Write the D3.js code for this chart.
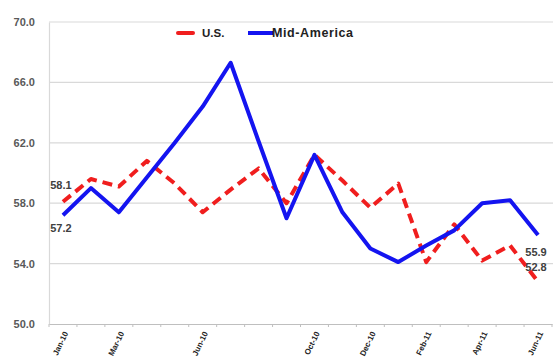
<!DOCTYPE html>
<html>
<head>
<meta charset="utf-8">
<script src="https://cdn.jsdelivr.net/npm/d3@7"></script>
<style>
  html, body { margin: 0; padding: 0; background: #fff; }
  svg { display: block; font-family: "Liberation Sans", Arial, sans-serif; }
</style>
</head>
<body>
<svg id="chart" width="553" height="360"></svg>
<script>
// Monthly readings, U.S. vs Mid-America
const months = ["Jan-10","Feb-10","Mar-10","Apr-10","May-10","Jun-10","Jul-10","Aug-10","Sep-10",
                "Oct-10","Nov-10","Dec-10","Jan-11","Feb-11","Mar-11","Apr-11","May-11","Jun-11"];
const usValues  = [58.1, 59.6, 59.1, 60.8, 59.3, 57.4, 58.9, 60.3, 58.0,
                   61.2, 59.5, 57.7, 59.3, 54.1, 56.6, 54.2, 55.2, 52.8];
const midValues = [57.2, 59.0, 57.4, 59.7, 62.0, 64.4, 67.3, 62.1, 57.0,
                   61.2, 57.4, 55.0, 54.1, 55.2, 56.2, 58.0, 58.2, 55.9];
// Months that carry an axis label
const labeledMonths = ["Jan-10","Mar-10","Jun-10","Oct-10","Dec-10","Feb-11","Apr-11","Jun-11"];
const yTicks = [50, 54, 58, 62, 66, 70];
const seriesNames = ["U.S.", "Mid-America"];

const svg = d3.select("#chart");
const W = 553;

const x = d3.scaleBand().domain(months).range([49, 552]);
const cx = m => x(m) + x.bandwidth() / 2;
const y = d3.scaleLinear().domain([50, 70]).range([324, 22]);

// horizontal gridlines
svg.append("g").selectAll("line").data(yTicks.filter(t => t > 50)).join("line")
  .attr("x1", 49).attr("x2", W).attr("y1", d => y(d)).attr("y2", d => y(d))
  .attr("stroke", "#d9d9d9").attr("stroke-width", 1.2);

// y axis
const yAxis = svg.append("g").attr("transform", "translate(49,0)")
  .call(d3.axisLeft(y).tickValues(yTicks).tickFormat(d3.format(".1f")).tickSize(0).tickPadding(14));
yAxis.select(".domain").attr("stroke", "#d9d9d9").attr("stroke-width", 1.2);
yAxis.selectAll("text").attr("font-size", 11).attr("fill", "#595959").attr("font-weight", "bold");

// x axis with ticks between categories
const xAxis = svg.append("g").attr("transform", `translate(0,${y(50)})`)
  .call(d3.axisBottom(x).tickSize(0).tickFormat(d => labeledMonths.includes(d) ? d : ""));
xAxis.select(".domain").attr("stroke", "#bfbfbf").attr("stroke-width", 1.2);
xAxis.selectAll(".tick text")
  .attr("font-size", 8).attr("font-weight", "bold").attr("fill", "#222")
  .attr("text-anchor", "end")
  .attr("transform", "translate(3,8) rotate(-64)")
  .attr("dy", "0.35em").attr("y", 0).attr("x", 0);
svg.append("g").selectAll("line").data(months.concat([null])).join("line")
  .attr("x1", (d, i) => 49 + i * x.step()).attr("x2", (d, i) => 49 + i * x.step())
  .attr("y1", y(50)).attr("y2", y(50) + 3)
  .attr("stroke", "#bfbfbf");

// series lines
const line = vals => d3.line().x((d, i) => cx(months[i])).y(d => y(d))(vals);
svg.append("path").attr("d", line(usValues))
  .attr("fill", "none").attr("stroke", "#f01e1e").attr("stroke-width", 4)
  .attr("stroke-dasharray", "10,6").attr("stroke-linejoin", "round");
svg.append("path").attr("d", line(midValues))
  .attr("fill", "none").attr("stroke", "#1414f0").attr("stroke-width", 4)
  .attr("stroke-linejoin", "round");

// end-point value labels
const fmt = d3.format(".1f");
const n = months.length - 1;
const labels = [
  { m: months[0], v: usValues[0], dy: -13 },
  { m: months[0], v: midValues[0], dy: 17 },
  { m: months[n], v: midValues[n], dy: 21 },
  { m: months[n], v: usValues[n], dy: -11 }
];
svg.append("g").selectAll("text").data(labels).join("text")
  .attr("x", d => cx(d.m) - 2).attr("y", d => y(d.v) + d.dy)
  .attr("text-anchor", "middle").attr("font-size", 11).attr("font-weight", "bold")
  .attr("fill", "#404040").text(d => fmt(d.v));

// legend
const legend = svg.append("g");
legend.append("line").attr("x1", 178).attr("x2", 193).attr("y1", 33).attr("y2", 33)
  .attr("stroke", "#f01e1e").attr("stroke-width", 4).attr("stroke-linecap", "round");
legend.append("text").attr("x", 202).attr("y", 37).attr("font-size", 11.5).attr("font-weight", "bold")
  .attr("fill", "#222").text(seriesNames[0]);
legend.append("line").attr("x1", 248).attr("x2", 273).attr("y1", 33).attr("y2", 33)
  .attr("stroke", "#1414f0").attr("stroke-width", 4);
legend.append("text").attr("x", 272).attr("y", 37).attr("font-size", 12.5).attr("font-weight", "bold")
  .attr("letter-spacing", 0.6).attr("fill", "#222").text(seriesNames[1]);
</script>
</body>
</html>
